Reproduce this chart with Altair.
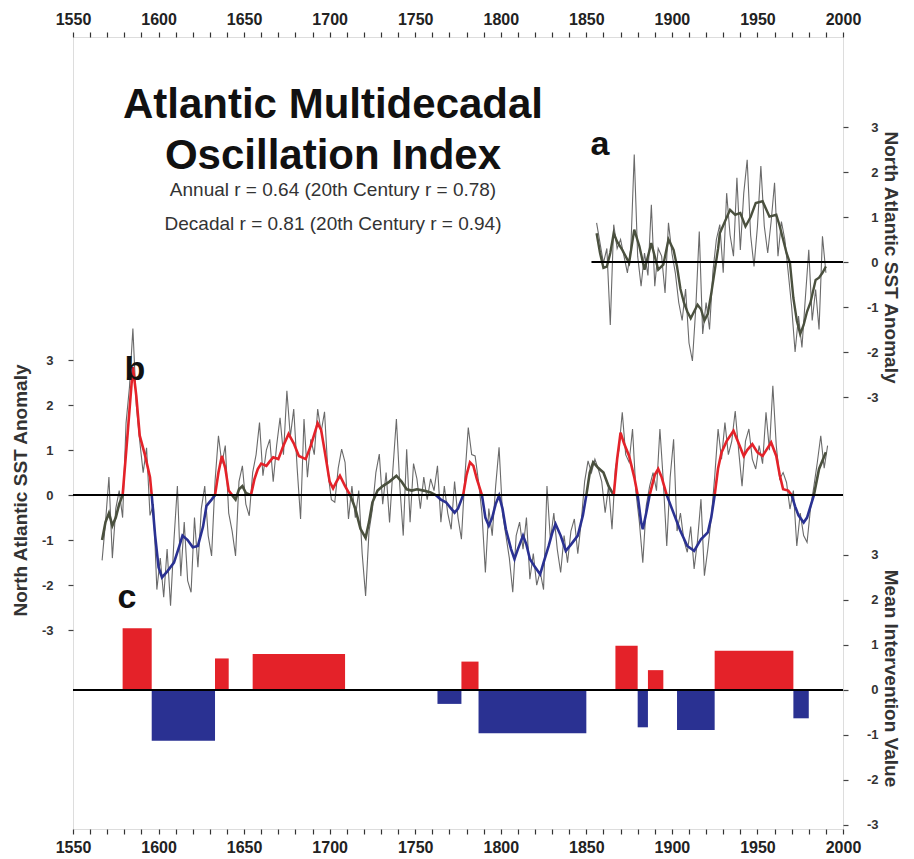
import altair as alt
import pandas as pd

# ---------------- data ----------------
# panel b: reconstructed AMO index, raw (every 2nd year) 1567-1991
b_raw_years = list(range(1567, 1992, 2))
b_raw_vals = [
    -1.45, -0.6, 0.4, -1.4, -0.3, 0.1, -0.5, 1.6, 2.4, 3.7,        # 1567-1585
    2.0, 1.2, 0.5, 1.05, -0.45, -0.2, -2.1, -1.4, -2.27, -1.2,     # 1587-1605
    -2.46, -1.0, 0.2, -1.8, -0.6, -1.9, -2.16, -0.5, -1.6, -0.3,   # 1607-1625
    0.2, -0.9, -1.35, 0.3, 1.32, 0.7, 1.1, -0.4, -0.8, -1.35,      # 1627-1645
    0.3, 0.65, -0.2, -0.46, 0.5, 0.9, 1.61, 0.43, 1.0, 1.24,       # 1647-1665
    0.3, 1.1, 1.72, 0.9, 2.32, 1.3, 1.91, 0.6, -0.53, 1.69,        # 1667-1685
    0.4, 1.24, 0.9, 1.91, 1.4, 1.85, 0.5, -0.1, -0.16, 0.6,        # 1687-1705
    1.02, 0.73, -0.53, 0.2, -0.5, 0.1, -1.3, -2.24, -0.8, -0.31,   # 1707-1725
    0.5, 0.91, -0.2, 0.5, -0.61, 0.6, 1.69, 0.2, -0.9, 1.02,       # 1727-1745
    -0.6, 0.7, 0.36, -0.3, 0.4, -0.1, 0.36, 0.1, 0.65, -0.6,       # 1747-1765
    0.2, -0.4, -0.76, 0.3, -0.5, -0.98, 0.4, 1.5, 0.9, 0.87,       # 1767-1785
    0.3, -0.4, -1.72, -0.3, -0.9, 0.2, 1.06, -0.4, -0.9, -1.4,     # 1787-1805
    -2.16, -0.9, -0.6, -1.2, -0.5, -1.87, -1.3, -2.0, -1.7, -2.1,  # 1807-1825
    0.2, -1.0, -0.4, -1.2, -1.72, -0.9, -1.5, -0.8, -0.53, -1.3,   # 1827-1845
    -0.6, 0.3, 0.76, 0.5, 0.8, 0.58, 0.3, -0.39, 0.2, -0.76,       # 1847-1865
    0.6, 1.0, 1.84, 0.9, 0.73, 1.47, 0.06, -0.6, -1.5, -0.24,      # 1867-1885
    0.2, 0.5, 0.1, 1.47, 0.3, -1.13, 0.4, 1.24, -0.8, -0.4,        # 1887-1905
    -1.0, -1.27, -0.7, -1.64, -1.0, -0.09, -1.79, -1.2, -0.5, 0.4, # 1907-1925
    1.47, 0.8, 1.61, 0.9, 1.2, 1.87, 1.0, 0.2, 1.2, 1.47,          # 1927-1945
    0.8, 0.58, 1.1, 0.7, 1.84, 1.0, 2.43, 1.1, 0.36, 0.5,          # 1947-1965
    0.28, -0.31, 0.1, -1.13, -0.4, -0.9, -1.05, -0.3, 0.2, 0.73,   # 1967-1985
    1.32, 0.6, 1.1,                                                # 1987-1991
]

# panel b: smoothed (decadal) index
b_sm_years = [1567, 1569, 1571, 1573, 1575, 1577, 1579, 1582, 1585, 1587, 1589, 1592, 1595, 1596,
              1598, 1600, 1602, 1605, 1609, 1612, 1614, 1617, 1620, 1623, 1626, 1628, 1631, 1633,
              1635, 1637, 1639, 1641, 1643, 1645, 1647, 1649, 1651, 1654,
              1656, 1658, 1660, 1663, 1665, 1667, 1670, 1673, 1676, 1679, 1682, 1686, 1689, 1693,
              1695, 1697, 1700, 1702, 1704, 1706, 1709, 1712,
              1715, 1718, 1721, 1723, 1725, 1728, 1731, 1735, 1739, 1742, 1745, 1748, 1751, 1755,
              1759, 1762, 1765, 1768, 1771, 1773, 1775, 1778, 1780, 1782, 1784, 1786, 1789,
              1791, 1793, 1795, 1797, 1799, 1801, 1803, 1806, 1808, 1810, 1813, 1815, 1817, 1820,
              1823, 1825, 1828, 1830, 1832, 1835, 1838, 1841, 1845, 1848, 1850,
              1852, 1854, 1857, 1860, 1863, 1866, 1868, 1870, 1872, 1875, 1878, 1880, 1882, 1883,
              1885, 1887, 1890, 1892, 1894, 1897, 1900, 1903, 1905, 1909, 1913, 1917, 1921, 1923,
              1925, 1927, 1929, 1932, 1936, 1939, 1942, 1944, 1947, 1950, 1953, 1956, 1958, 1961,
              1963, 1965, 1968, 1970, 1972, 1974, 1977, 1979, 1981, 1983, 1986, 1990]
b_sm_vals = [-1.0, -0.6, -0.4, -0.68, -0.5, -0.2, 0.0, 1.4, 2.85, 2.2, 1.32, 0.9, 0.4, 0.0,
             -0.9, -1.6, -1.83, -1.7, -1.5, -1.15, -0.9, -1.0, -1.16, -1.13, -0.7, -0.24, -0.1, 0.0,
             0.5, 0.87, 0.6, 0.1, 0.0, -0.1, 0.13, 0.2, 0.05, 0.0,
             0.35, 0.58, 0.7, 0.65, 0.75, 0.84, 0.8, 1.1, 1.36, 1.15, 0.87, 0.8, 1.1, 1.6,
             1.45, 1.0, 0.3, 0.15, 0.3, 0.43, 0.2, 0.0,
             -0.3, -0.75, -0.95, -0.6, -0.16, 0.1, 0.2, 0.3, 0.43, 0.3, 0.13, 0.1, 0.13, 0.1,
             0.06, 0.0, -0.1, -0.16, -0.3, -0.39, -0.3, 0.0, 0.45, 0.73, 0.65, 0.36, 0.0,
             -0.5, -0.68, -0.5, -0.2, -0.01, -0.3, -0.76, -1.2, -1.42, -1.2, -0.9, -1.1, -1.42, -1.6,
             -1.76, -1.5, -1.13, -0.85, -0.64, -0.9, -1.24, -1.1, -0.9, -0.45, 0.0,
             0.5, 0.73, 0.6, 0.5, 0.2, 0.0, 0.8, 1.39, 1.15, 0.87, 0.4, 0.0, -0.6, -0.76,
             -0.4, 0.0, 0.45, 0.58, 0.4, 0.0, -0.3, -0.6, -0.8, -1.13, -1.24, -0.98, -0.83, -0.5,
             0.0, 0.6, 0.95, 1.2, 1.43, 1.15, 0.87, 1.0, 1.13, 0.95, 0.87, 1.05, 1.17, 0.87,
             0.45, 0.13, 0.1, 0.0, -0.25, -0.45, -0.61, -0.5, -0.25, 0.0, 0.58, 0.95]

# colour phases of the smoothed index (start year, end year, phase)
b_phases = [(1567, 1579, "neutral"), (1579, 1596, "warm"), (1596, 1633, "cool"),
            (1633, 1643, "warm"), (1643, 1654, "neutral"), (1654, 1712, "warm"),
            (1712, 1762, "neutral"), (1762, 1778, "cool"), (1778, 1789, "warm"),
            (1789, 1850, "cool"), (1850, 1866, "neutral"), (1866, 1880, "warm"),
            (1880, 1887, "cool"), (1887, 1897, "warm"), (1897, 1925, "cool"),
            (1925, 1970, "warm"), (1970, 1983, "cool"), (1983, 1990, "neutral")]

# panel a: instrumental North Atlantic SST anomaly, raw (every 2nd year) 1856-1990
a_raw_years = list(range(1856, 1991, 2))
a_raw_vals = [
    0.87, 0.42, -0.02, 0.3, -1.4, 0.83, 0.3, 0.5, 0.13, -0.24,     # 1856-1874
    0.3, 2.39, 0.13, -0.54, 0.2, -0.3, 1.27, -0.54, 0.3, 0.13,     # 1876-1894
    -0.69, 0.87, 0.2, -0.24, -0.9, -1.3, -0.6, -1.8, -2.2, -1.0,   # 1896-1914
    0.68, -1.6, -0.9, -1.5, -0.2, 0.5, 0.83, -0.24, 1.53, 0.6,     # 1916-1934
    0.13, 1.87, 0.27, 1.53, 2.27, 0.6, -0.1, 0.79, 2.13, 0.8,      # 1936-1954
    0.2, 0.9, 1.76, 0.13, 0.9, 0.5, -0.24, -1.0, -2.0, -1.2,       # 1956-1974
    -1.9, -0.8, 0.27, -1.3, -0.61, -1.5, 0.57, -0.24,              # 1976-1990
]
a_sm_years = [1856, 1858, 1860, 1862, 1864, 1866, 1868, 1871, 1875, 1878, 1881, 1884, 1888,
              1892, 1895, 1898, 1901, 1903, 1905, 1907, 1909, 1911, 1913, 1915, 1917, 1919,
              1921, 1923, 1925, 1927, 1928, 1931, 1934, 1937, 1940, 1943, 1946, 1949, 1953,
              1957, 1961, 1963, 1965, 1967, 1969, 1971, 1973, 1975, 1977, 1979, 1981, 1984,
              1986, 1988, 1990]
a_sm_vals = [0.64, 0.2, -0.13, -0.1, 0.2, 0.64, 0.45, 0.27, -0.02, 0.72, 0.35, -0.17, 0.42,
             -0.17, -0.06, 0.5, 0.27, -0.1, -0.6, -0.9, -1.1, -1.25, -1.1, -0.95, -1.05, -1.3,
             -1.15, -0.7, -0.2, 0.3, 0.64, 0.9, 1.16, 1.05, 1.09, 0.79, 1.0, 1.31, 1.35,
             1.01, 1.05, 0.8, 0.5, 0.2, -0.02, -0.8, -1.3, -1.6, -1.4, -1.1, -0.9, -0.4,
             -0.35, -0.24, -0.1]

# panel c: mean intervention value per phase
c_start = [1579, 1596, 1633, 1655, 1763, 1777, 1787, 1867, 1880, 1886, 1903, 1925, 1971]
c_end = [1596, 1633, 1641, 1709, 1777, 1787, 1850, 1880, 1886, 1895, 1925, 1971, 1980]
c_vals = [1.37, -1.13, 0.70, 0.80, -0.31, 0.63, -0.96, 0.98, -0.83, 0.44, -0.89, 0.87, -0.63]

x_ticks = list(range(1550, 2001, 10))
y_ticks = [-3, -2, -1, 0, 1, 2, 3]
title_lines = ["Atlantic Multidecadal", "Oscillation Index"]
r_lines = ["Annual r = 0.64 (20th Century r = 0.78)",
           "Decadal r = 0.81 (20th Century r = 0.94)"]
panel_letters = ["a", "b", "c"]
left_title = "North Atlantic SST Anomaly"
right_title_a = "North Atlantic SST Anomaly"
right_title_c = "Mean Intervention Value"

# ---------------- tables ----------------
df_braw = pd.DataFrame({"year": b_raw_years, "val": b_raw_vals})
sm = pd.DataFrame({"year": b_sm_years, "val": b_sm_vals})
parts = []
for i, (s, e, ph) in enumerate(b_phases):
    seg = sm[(sm.year >= s) & (sm.year <= e)].copy()
    seg["seg"] = i
    seg["phase"] = ph
    parts.append(seg)
df_bsm = pd.concat(parts, ignore_index=True)
df_araw = pd.DataFrame({"year": a_raw_years, "val": a_raw_vals})
df_asm = pd.DataFrame({"year": a_sm_years, "val": a_sm_vals})
df_c = pd.DataFrame({"start": c_start, "end": c_end, "val": c_vals})
df_c["zero"] = 0.0
df_dummy = pd.DataFrame({"k": [0]})

# ---------------- styling ----------------
FONT = "Liberation Sans"
RED = "#e42229"
BLUE = "#2a3192"
OLIVE = "#4a503e"
GRAY = "#6a6a6a"
W, H = 770, 792
B_DOM = [-7.42, 10.18]
A_DOM = [-12.6, 5.0]
C_DOM = [-3.09, 14.51]


def xs():
    return alt.Scale(domain=[1550, 2000], nice=False, zero=False)


def ys(d):
    return alt.Scale(domain=d, nice=False, zero=False)


def x_axis(orient):
    return alt.Axis(orient=orient, values=x_ticks, tickCount=500, format="d",
                    labelExpr="datum.value % 50 === 0 ? datum.label : ''",
                    labelOverlap=False, labelBound=False, labelFlush=False,
                    tickSize=5, tickColor="#333", tickWidth=1.2, labelPadding=5,
                    labelFontSize=16, labelFontWeight="bold", labelColor="#222",
                    labelFont=FONT, domain=False, grid=False, title=None)


def y_axis(orient, title, tx, ty):
    right = orient == "right"
    return alt.Axis(orient=orient, values=y_ticks, tickCount=50,
                    labelExpr="'' + datum.value",
                    labelOverlap=False, labelBound=False, labelFlush=False,
                    tickSize=5, tickColor="#444", tickWidth=1.2,
                    labelPadding=30 if right else 15, labelAlign="right",
                    labelFontSize=13, labelFontWeight="bold", labelColor="#333",
                    labelFont=FONT, domain=False, grid=False,
                    title=title, titleFont=FONT, titleFontSize=19, titleFontWeight="bold",
                    titleColor="#333", titleX=tx, titleY=ty, titleAlign="center",
                    titleBaseline="middle", titleAngle=90 if right else 270)


# panel b layer
b_raw = alt.Chart(df_braw).mark_line(color=GRAY, strokeWidth=1.1).encode(
    x=alt.X("year:Q", scale=xs(), axis=x_axis("bottom")),
    y=alt.Y("val:Q", scale=ys(B_DOM), axis=y_axis("left", left_title, -53, 453)),
)
b_sm = alt.Chart(df_bsm).mark_line(strokeWidth=2.6).encode(
    x=alt.X("year:Q", scale=xs()),
    y=alt.Y("val:Q", scale=ys(B_DOM)),
    color=alt.Color("phase:N", legend=None,
                    scale=alt.Scale(domain=["neutral", "warm", "cool"], range=[OLIVE, RED, BLUE])),
    detail="seg:N",
)
b_zero = alt.Chart(df_dummy).mark_rule(color="black", strokeWidth=2).encode(
    y=alt.Y(datum=0, scale=ys(B_DOM)))
L_b = alt.layer(b_raw, b_sm, b_zero)

# panel a layer
a_raw = alt.Chart(df_araw).mark_line(color=GRAY, strokeWidth=1.1).encode(
    x=alt.X("year:Q", scale=xs(), axis=x_axis("top")),
    y=alt.Y("val:Q", scale=ys(A_DOM), axis=y_axis("right", right_title_a, 47, 220)),
)
a_sm = alt.Chart(df_asm).mark_line(color=OLIVE, strokeWidth=2.4).encode(
    x=alt.X("year:Q", scale=xs()),
    y=alt.Y("val:Q", scale=ys(A_DOM)),
)
a_zero = alt.Chart(df_dummy).mark_rule(color="black", strokeWidth=2).encode(
    x=alt.X(datum=1853, scale=xs()), x2=alt.X2(datum=2000),
    y=alt.Y(datum=0, scale=ys(A_DOM)))
L_a = alt.layer(a_raw, a_sm, a_zero)

# panel c layer
c_bars = alt.Chart(df_c).mark_rect().encode(
    x=alt.X("start:Q", scale=xs(), axis=None),
    x2="end:Q",
    y=alt.Y("val:Q", scale=ys(C_DOM), axis=y_axis("right", right_title_c, 47, 641)),
    y2="zero:Q",
    color=alt.condition("datum.val > 0", alt.value(RED), alt.value(BLUE)),
)
c_zero = alt.Chart(df_dummy).mark_rule(color="black", strokeWidth=2).encode(
    y=alt.Y(datum=0, scale=ys(C_DOM)))
L_c = alt.layer(c_bars, c_zero)


def label(text, x, y, size, weight="bold", color="#111"):
    return alt.Chart(df_dummy).mark_text(
        text=text, font=FONT, fontSize=size, fontWeight=weight, color=color,
        align="center", baseline="middle").encode(x=alt.value(x), y=alt.value(y))


texts = [
    label(title_lines[0], 260, 68, 42),
    label(title_lines[1], 260, 119, 42),
    label(r_lines[0], 260, 153, 19, "normal", "#333"),
    label(r_lines[1], 260, 187, 19, "normal", "#333"),
    label(panel_letters[0], 527, 108, 34),
    label(panel_letters[1], 62, 333, 34),
    label(panel_letters[2], 54, 561, 34),
]

chart = alt.layer(L_b, L_a, L_c, *texts).resolve_scale(
    x="independent", y="independent"
).properties(
    width=W, height=H, padding={"left": 3, "top": 3, "right": 4, "bottom": 0},
    background="white",
).configure_view(stroke="#222", strokeWidth=2).configure(font=FONT)

chart.save("out.html", embed_options={"renderer": "svg", "actions": False})
